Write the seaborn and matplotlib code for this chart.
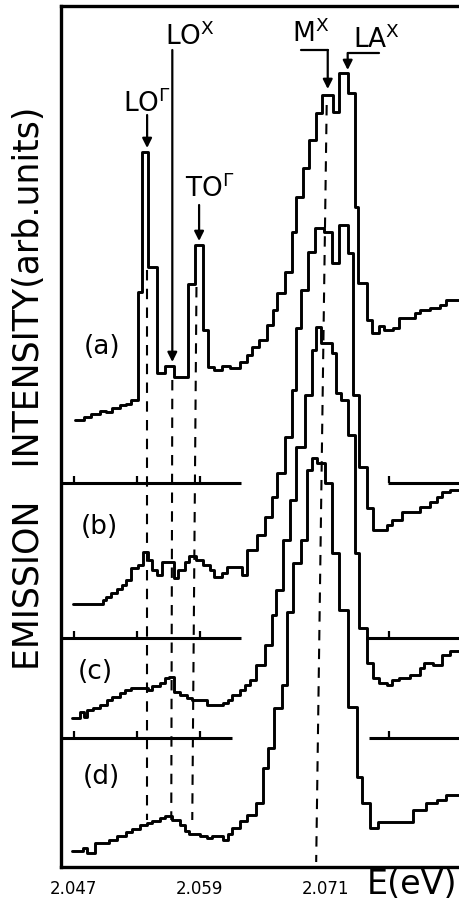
import matplotlib
matplotlib.use("Agg")
import matplotlib.pyplot as plt
import seaborn as sns
import pandas as pd

# ---- data: step edges (eV) and step heights (arb. units, vertically offset as drawn) ----
a_edges = [2.0471, 2.0480, 2.0487, 2.0495, 2.0501, 2.0507, 2.0514, 2.0520, 2.0525, 2.0531,
           2.0535, 2.0541, 2.0549, 2.0557, 2.0566, 2.0579, 2.0586, 2.0593, 2.0598, 2.0604,
           2.0611, 2.0619, 2.0628, 2.0635, 2.0640, 2.0647, 2.0654, 2.0660, 2.0664, 2.0671,
           2.0678, 2.0682, 2.0688, 2.0694, 2.0701, 2.0707, 2.0717, 2.0723, 2.0731, 2.0738,
           2.0741, 2.0749, 2.0754, 2.0761, 2.0766, 2.0774, 2.0780, 2.0787, 2.0795, 2.0800,
           2.0809, 2.0819, 2.0825, 2.0840]
a_levels = [447, 450, 453, 456, 455, 459, 462, 463, 467, 575,
            715, 600, 494, 501, 490, 583, 622, 537, 500, 497,
            501, 499, 505, 512, 520, 527, 542, 557, 574, 595,
            635, 670, 699, 727, 754, 772, 755, 794, 774, 660,
            584, 547, 534, 541, 537, 539, 549, 549, 554, 557,
            559, 562, 567]

b_edges = [2.0469, 2.0498, 2.0501, 2.0506, 2.0511, 2.0516, 2.0520, 2.0525, 2.0531, 2.0536,
           2.0541, 2.0545, 2.0549, 2.0554, 2.0561, 2.0566, 2.0569, 2.0576, 2.0580, 2.0587,
           2.0593, 2.0600, 2.0604, 2.0611, 2.0616, 2.0630, 2.0635, 2.0645, 2.0652, 2.0659,
           2.0664, 2.0671, 2.0678, 2.0682, 2.0687, 2.0693, 2.0700, 2.0708, 2.0716, 2.0723,
           2.0731, 2.0736, 2.0742, 2.0749, 2.0755, 2.0768, 2.0773, 2.0783, 2.0800, 2.0809,
           2.0816, 2.0821, 2.0828, 2.0840]
b_levels = [263, 267, 270, 274, 278, 282, 287, 299, 302, 315,
            307, 297, 292, 305, 305, 289, 297, 305, 311, 307,
            302, 297, 290, 294, 300, 292, 317, 332, 350, 370,
            394, 430, 477, 539, 577, 615, 639, 635, 604, 642,
            614, 472, 400, 359, 337, 342, 347, 355, 360, 365,
            370, 375, 377]

c_edges = [2.0468, 2.0476, 2.0480, 2.0483, 2.0488, 2.0495, 2.0502, 2.0507, 2.0514, 2.0519,
           2.0525, 2.0541, 2.0545, 2.0552, 2.0557, 2.0561, 2.0566, 2.0571, 2.0578, 2.0583,
           2.0597, 2.0612, 2.0617, 2.0621, 2.0628, 2.0633, 2.0638, 2.0644, 2.0652, 2.0659,
           2.0663, 2.0669, 2.0676, 2.0682, 2.0690, 2.0697, 2.0701, 2.0706, 2.0716, 2.0720,
           2.0725, 2.0731, 2.0738, 2.0742, 2.0749, 2.0755, 2.0761, 2.0768, 2.0773, 2.0780,
           2.0790, 2.0800, 2.0804, 2.0812, 2.0821, 2.0828, 2.0840]
c_levels = [149, 155, 150, 157, 159, 162, 167, 170, 174, 177,
            179, 177, 181, 184, 189, 190, 175, 172, 169, 167,
            162, 164, 167, 172, 177, 182, 187, 202, 222, 252,
            277, 327, 367, 420, 472, 517, 540, 524, 514, 474,
            467, 432, 314, 239, 204, 189, 184, 182, 187, 189,
            192, 199, 204, 202, 212, 216]

d_edges = [2.0468, 2.0479, 2.0483, 2.0490, 2.0504, 2.0511, 2.0520, 2.0526, 2.0533, 2.0540,
           2.0545, 2.0552, 2.0557, 2.0564, 2.0571, 2.0576, 2.0580, 2.0590, 2.0597, 2.0602,
           2.0612, 2.0617, 2.0621, 2.0628, 2.0635, 2.0644, 2.0650, 2.0655, 2.0661, 2.0668,
           2.0673, 2.0679, 2.0687, 2.0692, 2.0697, 2.0702, 2.0709, 2.0716, 2.0723, 2.0731,
           2.0740, 2.0745, 2.0752, 2.0760, 2.0793, 2.0806, 2.0816, 2.0825, 2.0840]
d_levels = [16, 19, 14, 24, 27, 31, 35, 38, 42, 44,
            46, 49, 51, 47, 42, 36, 33, 31, 29, 31,
            27, 33, 39, 46, 52, 64, 99, 119, 159, 182,
            255, 304, 327, 397, 409, 404, 384, 314, 257, 160,
            90, 64, 39, 45, 57, 64, 67, 72]

panel_names = ["(a)", "(b)", "(c)", "(d)"]

# baselines separating the offset spectra
sep_levels = [384, 229, 129]
sep_left_end = [2.0629, 2.0629, 2.0621]
sep_right_start = [2.0769, 2.0748, 2.0751]
sep_ticks = [2.047, 2.053, 2.059, 2.077]

# phonon replica / line markers (dashed)
line_e_top = [2.0540, 2.0564, 2.0587, 2.0711]
line_e_bot = [2.0540, 2.0563, 2.0583, 2.0701]
line_i_top = [597, 487, 580, 762]
line_i_bot = [47, 47, 47, 5]

x_ticks = [2.047, 2.053, 2.059, 2.065, 2.071, 2.077]
x_ticklabels = ["2.047", "", "2.059", "", "2.071", ""]

# ---- figure ----
sns.set_style("white")
plt.rcParams["font.family"] = ["DejaVu Sans"]
plt.rcParams["text.color"] = "black"
plt.rcParams["axes.labelcolor"] = "black"
plt.rcParams["xtick.color"] = "black"
plt.rcParams["axes.edgecolor"] = "black"

fig = plt.figure(figsize=(4.59, 9.01), dpi=100)
ax = fig.add_axes([61 / 459, 34 / 901, 1 - 61 / 459, 861 / 901])

spectra = [(a_edges, a_levels), (b_edges, b_levels), (c_edges, c_levels), (d_edges, d_levels)]
for name, (edges, levels) in zip(panel_names, spectra):
    df = pd.DataFrame({"E": edges, "I": list(levels) + [levels[-1]]})
    sns.lineplot(data=df, x="E", y="I", ax=ax, drawstyle="steps-post", color="black",
                 lw=2.1, estimator=None, sort=False, legend=False)

xlo, xhi = 2.0458, 2.0837
ax.set_xlim(xlo, xhi)
ax.set_ylim(0, 861)

# separators with small ticks
for lev, le, rs in zip(sep_levels, sep_left_end, sep_right_start):
    ax.hlines(lev, xlo, le, color="black", lw=2.2)
    ax.hlines(lev, rs, 2.0840, color="black", lw=2.2)
    for t in sep_ticks:
        if t <= le or t >= rs:
            ax.vlines(t, lev, lev + 7, color="black", lw=1.6)

# dashed marker lines
for xt, xb, yt, yb in zip(line_e_top, line_e_bot, line_i_top, line_i_bot):
    ax.plot([xt, xb], [yt, yb], color="black", lw=1.5, ls=(0, (5, 4)))

# annotations
arrow_kw = dict(arrowstyle="-|>", color="black", lw=1.6, mutation_scale=14, shrinkA=0, shrinkB=0)
fs_lab = 19
ax.text(2.0517, 755, r"LO$^{\Gamma}$", fontsize=fs_lab, ha="left", va="baseline", color="black")
ax.annotate("", xy=(2.0540, 719), xytext=(2.0540, 752), arrowprops=arrow_kw)

ax.text(2.0557, 822, r"LO$^{\mathrm{X}}$", fontsize=fs_lab, ha="left", va="baseline", color="black")
ax.annotate("", xy=(2.0564, 505), xytext=(2.0564, 817), arrowprops=arrow_kw)

ax.text(2.0576, 670, r"TO$^{\Gamma}$", fontsize=fs_lab, ha="left", va="baseline", color="black")
ax.annotate("", xy=(2.05895, 626), xytext=(2.05895, 662), arrowprops=arrow_kw)

ax.text(2.0678, 825, r"M$^{\mathrm{X}}$", fontsize=fs_lab, ha="left", va="baseline", color="black")
ax.plot([2.0687, 2.0712], [817, 817], color="black", lw=1.6)
ax.annotate("", xy=(2.0712, 778), xytext=(2.0712, 817), arrowprops=arrow_kw)

ax.text(2.0736, 819, r"LA$^{\mathrm{X}}$", fontsize=fs_lab, ha="left", va="baseline", color="black")
ax.plot([2.0761, 2.0731], [814, 814], color="black", lw=1.6)
ax.annotate("", xy=(2.0731, 797), xytext=(2.0731, 814), arrowprops=arrow_kw)

# panel labels
for name, (px, py) in zip(panel_names, [(2.0497, 520), (2.0495, 340), (2.0491, 195), (2.0496, 90)]):
    ax.text(px, py, name, fontsize=19, ha="center", va="center", color="black")

# axes styling
ax.set_xticks(x_ticks)
ax.set_xticklabels(x_ticklabels, fontsize=12, color="black")
ax.set_yticks([])
ax.tick_params(axis="x", direction="in", length=6, width=1.6, pad=9, colors="black")
ax.set_xlabel("")
ax.set_ylabel("")
for side in ["left", "top", "bottom"]:
    ax.spines[side].set_visible(True)
    ax.spines[side].set_linewidth(2.4)
    ax.spines[side].set_color("black")
ax.spines["right"].set_visible(False)

fig.text(29 / 459, 1 - 388 / 901, "EMISSION   INTENSITY(arb.units)", rotation=90,
         fontsize=25, ha="center", va="center", color="black")
fig.text(412 / 459, 1 - 885 / 901, "E(eV)", fontsize=24, ha="center", va="center", color="black")

fig.savefig("out.png", dpi=100, facecolor="white")
